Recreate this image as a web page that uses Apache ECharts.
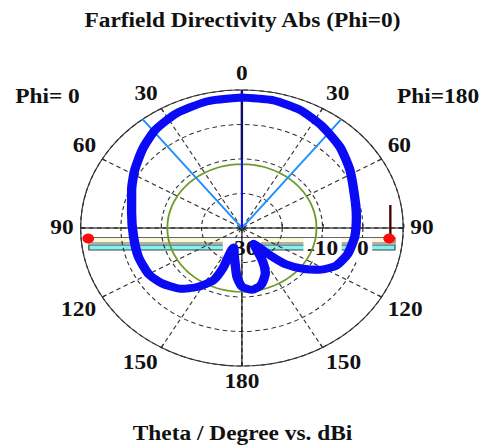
<!DOCTYPE html>
<html><head><meta charset="utf-8">
<script src="https://cdn.jsdelivr.net/npm/echarts@6/dist/echarts.min.js"></script>
<style>
html,body{margin:0;padding:0;background:#fff;overflow:hidden}
#wrap{width:485px;height:448px;overflow:hidden}
#c{width:415px;height:448px;transform:scaleX(1.1687);transform-origin:0 0}
</style>
</head><body><div id="wrap"><div id="c"></div></div>
<script>
// ---- data (Theta in degrees, directivity in dBi) ----
const phi180Theta = [0, 12, 23, 34, 46, 58, 72, 83, 95, 106, 115, 122, 128, 134, 138, 142, 148, 152, 156, 164, 172, 180];
const phi180Db    = [7.8, 7.8, 7.1, 5.6, 3.8, 1.6, -0.6, -1.4, -1.9, -2.7, -4.2, -7.2, -10.8, -14.8, -19.0, -22.5, -24.5, -19.0, -15.7, -12.8, -11.9, -13.0];
const phi0Theta   = [0, 13, 26, 37, 47, 58, 68, 81, 95, 108, 120, 129, 139, 147, 155, 158, 160, 165, 170, 175, 180];
const phi0Db      = [7.8, 7.7, 7.0, 5.65, 3.65, 1.4, -0.5, -2.3, -3.0, -3.0, -3.3, -4.5, -6.7, -9.6, -13.3, -17.5, -24.0, -22.5, -20.0, -15.8, -13.0];
const mainLobeDirection = 0;      // degrees
const beamEdgeAngles = [-38, 38]; // 3 dB angular width edges
const sideLobeLevel = -11.5;      // dBi (green circle)
const radialMin = -30, radialMax = 10, radialStep = 10;
const radialLabels = [-30, -10, 0];
const angleStep = 30;

// ---- helpers ----
// angle a: clockwise from top (0..360). Axis runs 90..450 starting at 3 o'clock.
const toV = a => { a = ((a % 360) + 360) % 360; return a < 90 ? a + 360 : a; };
const curve = [];
phi180Theta.forEach((t, i) => curve.push([phi180Db[i], toV(t)]));
for (let i = phi0Theta.length - 1; i >= 0; i--) curve.push([phi0Db[i], toV(360 - phi0Theta[i])]);

const ring = [];
for (let a = 90; a <= 450; a += 5) ring.push([sideLobeLevel, a]);

const font = {fontFamily: 'Liberation Serif', fontWeight: 'bold', fontSize: 20, color: '#111'};

const chart = echarts.init(document.getElementById('c'), null, {renderer: 'svg'});
chart.setOption({
  animation: false,
  backgroundColor: '#fff',
  title: [
    {text: 'Farfield Directivity Abs (Phi=0)', left: 'center', top: 11, padding: 0, textStyle: font},
    {text: 'Phi= 0', left: 13, top: 87, padding: 0, textStyle: font},
    {text: 'Phi=180', right: 5, top: 87, padding: 0, textStyle: font},
    {text: 'Theta / Degree vs. dBi', left: 'center', top: 424, padding: 0, textStyle: font}
  ],
  polar: {center: [207, 228], radius: 138},
  angleAxis: {
    type: 'value', min: 90, max: 450, interval: angleStep, startAngle: 0, clockwise: true, z: 1,
    axisLine: {lineStyle: {color: '#333', width: 1}},
    axisTick: {show: true, inside: true, length: 4, lineStyle: {color: '#333'}},
    axisLabel: {margin: 6, ...font, formatter: v => { const a = v % 360; return String(a <= 180 ? a : 360 - a); }},
    splitLine: {show: true, lineStyle: {type: [4, 3], color: '#333', width: 1}}
  },
  radiusAxis: {
    type: 'value', min: radialMin, max: radialMax, interval: radialStep, z: 1,
    axisLine: {show: false},
    axisTick: {show: true, length: 4, lineStyle: {color: '#222'}},
    axisLabel: {margin: -10, verticalAlign: 'top', align: 'center',
      formatter: v => radialLabels.includes(v) ? '{b|' + v + '}' : '',
      rich: {b: {...font, backgroundColor: '#fff', padding: [1, 3]}}},
    splitLine: {show: true, lineStyle: {type: [4, 3], color: '#333', width: 1}}
  },
  graphic: [
    {type: 'rect', z: -5, shape: {x: 76, y: 237.5, width: 262, height: 5.5}, style: {fill: '#fbf8d9', stroke: '#666', lineWidth: 1}},
    {type: 'rect', z: -5, shape: {x: 76, y: 245, width: 262, height: 5}, style: {fill: '#7ff2f2', stroke: '#444', lineWidth: 1}},
    {type: 'line', z: 50, shape: {x1: 334, y1: 205, x2: 334, y2: 236}, style: {stroke: '#4a0000', lineWidth: 2}},
    {type: 'circle', z: 50, shape: {cx: 75.5, cy: 238.5, r: 5}, style: {fill: '#ff0a0a'}},
    {type: 'circle', z: 50, shape: {cx: 333, cy: 238.5, r: 5}, style: {fill: '#ff0a0a'}}
  ],
  series: [
    {type: 'line', coordinateSystem: 'polar', symbol: 'none', silent: true, z: 3,
      lineStyle: {color: '#000', width: 1},
      data: [[radialMax, 270], [radialMin, 270], [radialMax, 90]]},
    {type: 'line', coordinateSystem: 'polar', symbol: 'none', silent: true, z: 3,
      lineStyle: {color: '#111', width: 1},
      data: [[radialMin, 180], [radialMax, 180]]},
    {type: 'line', coordinateSystem: 'polar', symbol: 'none', silent: true, z: 4,
      lineStyle: {color: '#6f9b2c', width: 1.6},
      data: ring},
    {type: 'line', coordinateSystem: 'polar', symbol: 'none', silent: true, z: 5,
      lineStyle: {color: '#1e8fff', width: 1.8},
      data: [[radialMax, toV(beamEdgeAngles[0])], [radialMin, toV(0)], [radialMax, toV(beamEdgeAngles[1])]]},
    {type: 'line', coordinateSystem: 'polar', symbol: 'none', silent: true, z: 5,
      lineStyle: {color: '#1010e0', width: 1.8},
      data: [[radialMin, toV(mainLobeDirection)], [radialMax, toV(mainLobeDirection)]]},
    {type: 'line', coordinateSystem: 'polar', symbol: 'none', silent: true, z: 6,
      lineStyle: {color: '#101060', width: 2},
      data: [[-10, toV(mainLobeDirection)], [radialMax, toV(mainLobeDirection)]]},
    {type: 'line', coordinateSystem: 'polar', symbol: 'none', silent: true, z: 10, smooth: 0.2,
      lineStyle: {color: '#0a0af5', width: 8, cap: 'round', join: 'round'},
      data: curve}
  ]
});
</script>
</body></html>
